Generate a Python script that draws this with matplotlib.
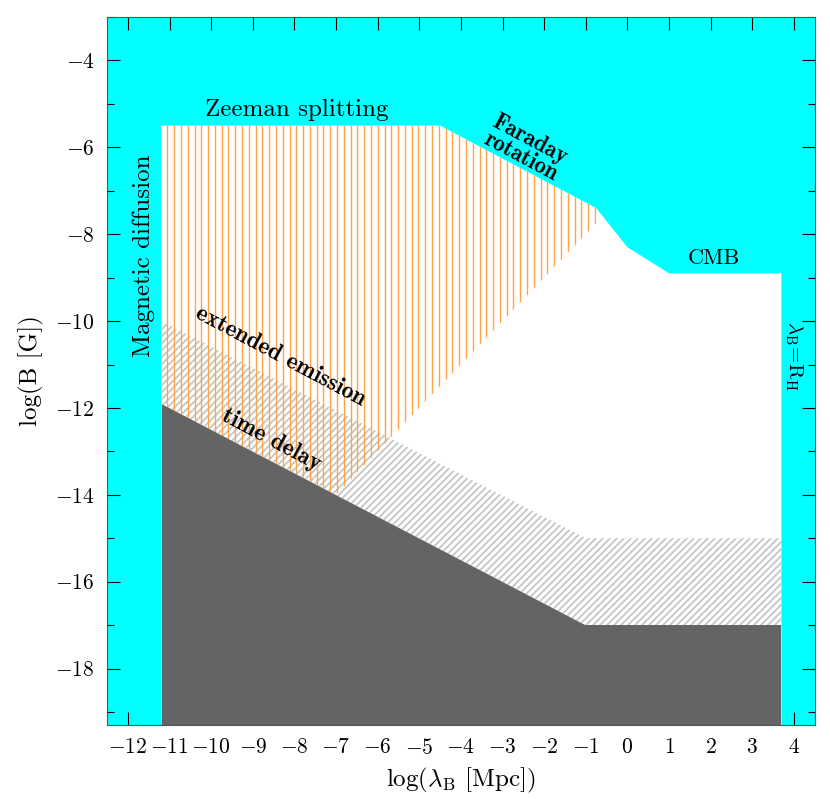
import numpy as np
import matplotlib
matplotlib.use("Agg")
import matplotlib.pyplot as plt
from matplotlib.patches import Polygon
from matplotlib.collections import LineCollection
from matplotlib.ticker import MultipleLocator

plt.rcParams['font.family'] = 'cmr10'
plt.rcParams['mathtext.fontset'] = 'cm'
plt.rcParams['axes.formatter.use_mathtext'] = True

# axis ranges
x_lim = (-12.5, 4.5)
y_lim = (-19.3, -3.0)

# allowed (white) region: boundaries of excluded cyan area
allowed_x = [-11.2, -11.2, -4.5, -0.75, 0.0, 1.0, 3.7, 3.7]
allowed_y = [-19.3, -5.5, -5.5, -7.4, -8.3, -8.9, -8.9, -19.3]

# time delay excluded (dark) region
delay_x = [-11.2, -1.0, 3.7]
delay_y = [-11.9, -17.0, -17.0]

# extended emission (grey hatched) upper limit
ext_x = [-11.2, -1.0, 3.7]
ext_y = [-10.0, -15.0, -15.0]

# orange hatched region (Zeeman / Faraday bounded)
zee_x = [-11.2, -4.5, -0.75, -0.75, -7.0, -11.2]
zee_y = [-5.5, -5.5, -7.4, -7.75, -14.0, -11.9]

fig = plt.figure(figsize=(8.30, 7.99), dpi=100)
ax = fig.add_axes([0.129, 0.0926, 0.8526, 0.8861])
ax.set_xlim(*x_lim)
ax.set_ylim(*y_lim)
ax.set_facecolor('#00ffff')

ax.fill(allowed_x, allowed_y, color='white', lw=0, zorder=1)

# grey hatch, drawn as clipped diagonal lines
ext_poly = Polygon(list(zip(ext_x + delay_x[::-1], ext_y + delay_y[::-1])),
                   closed=True, facecolor='none', edgecolor='none', transform=ax.transData)
ax.add_patch(ext_poly)
slope = 41.6 / 43.45
segs = []
for x0 in np.arange(-30, 5, 0.168):
    segs.append([(x0, -20.0), (x0 + 12.0 / slope, -8.0)])
lc = LineCollection(segs, colors='#c4c4c4', linewidths=1.25, zorder=2)
ax.add_collection(lc)
lc.set_clip_path(ext_poly)

# orange vertical hatch
zee_poly = Polygon(list(zip(zee_x, zee_y)), closed=True, facecolor='none',
                   edgecolor='none', transform=ax.transData)
ax.add_patch(zee_poly)
vl = ax.vlines(np.arange(-11.05, -0.7, 0.163), -20, -3, colors='#ffa447',
               linewidth=1.0, zorder=3)
vl.set_clip_path(zee_poly)

# time delay dark region (two pieces)
ax.fill_between(delay_x[:2], delay_y[:2], y_lim[0], color='#646464', lw=0, zorder=4)
ax.fill_between(delay_x[1:], delay_y[1:], y_lim[0], color='#646464', lw=0, zorder=4)

# labels
ax.text(-7.95, -5.15, 'Zeeman splitting', fontsize=18, ha='center', va='center', zorder=5)
ax.text(-2.45, -6.02, 'Faraday\nrotation', fontfamily='cmb10', fontsize=16.5,
        rotation=-28, ha='center', va='center', linespacing=0.85, zorder=5)
ax.text(2.07, -8.55, 'CMB', fontsize=16, ha='center', va='center', zorder=5)
ax.text(-11.63, -8.5, 'Magnetic diffusion', fontsize=18, rotation=90,
        ha='center', va='center', zorder=5)
ax.text(3.99, -10.8, r'$\lambda_{\rm B}\!=\!{\rm R}_{\rm H}$', fontsize=15, rotation=-90,
        ha='center', va='center', zorder=5)
ax.text(-8.34, -10.8, 'extended emission', fontfamily='cmb10', fontsize=17,
        rotation=-28, ha='center', va='center', zorder=5)
ax.text(-8.56, -12.74, 'time delay', fontfamily='cmb10', fontsize=17,
        rotation=-28, ha='center', va='center', zorder=5)

ax.set_xlabel(r'log($\lambda_{\rm B}$ [Mpc])', fontsize=18, labelpad=6)
ax.set_ylabel('log(B [G])', fontsize=18, labelpad=8)

ax.xaxis.set_major_locator(MultipleLocator(1))
ax.yaxis.set_major_locator(MultipleLocator(2))
ax.yaxis.set_minor_locator(MultipleLocator(1))
ax.tick_params(which='both', direction='in', top=True, right=True, labelsize=15.5, zorder=6)
ax.tick_params(which='major', length=9.5, width=0.8, pad=9)
ax.tick_params(which='minor', length=5, width=0.8)
for s in ax.spines.values():
    s.set_color('#555555')
    s.set_zorder(7)
ax.set_axisbelow(False)

fig.savefig('out.png', dpi=100)
